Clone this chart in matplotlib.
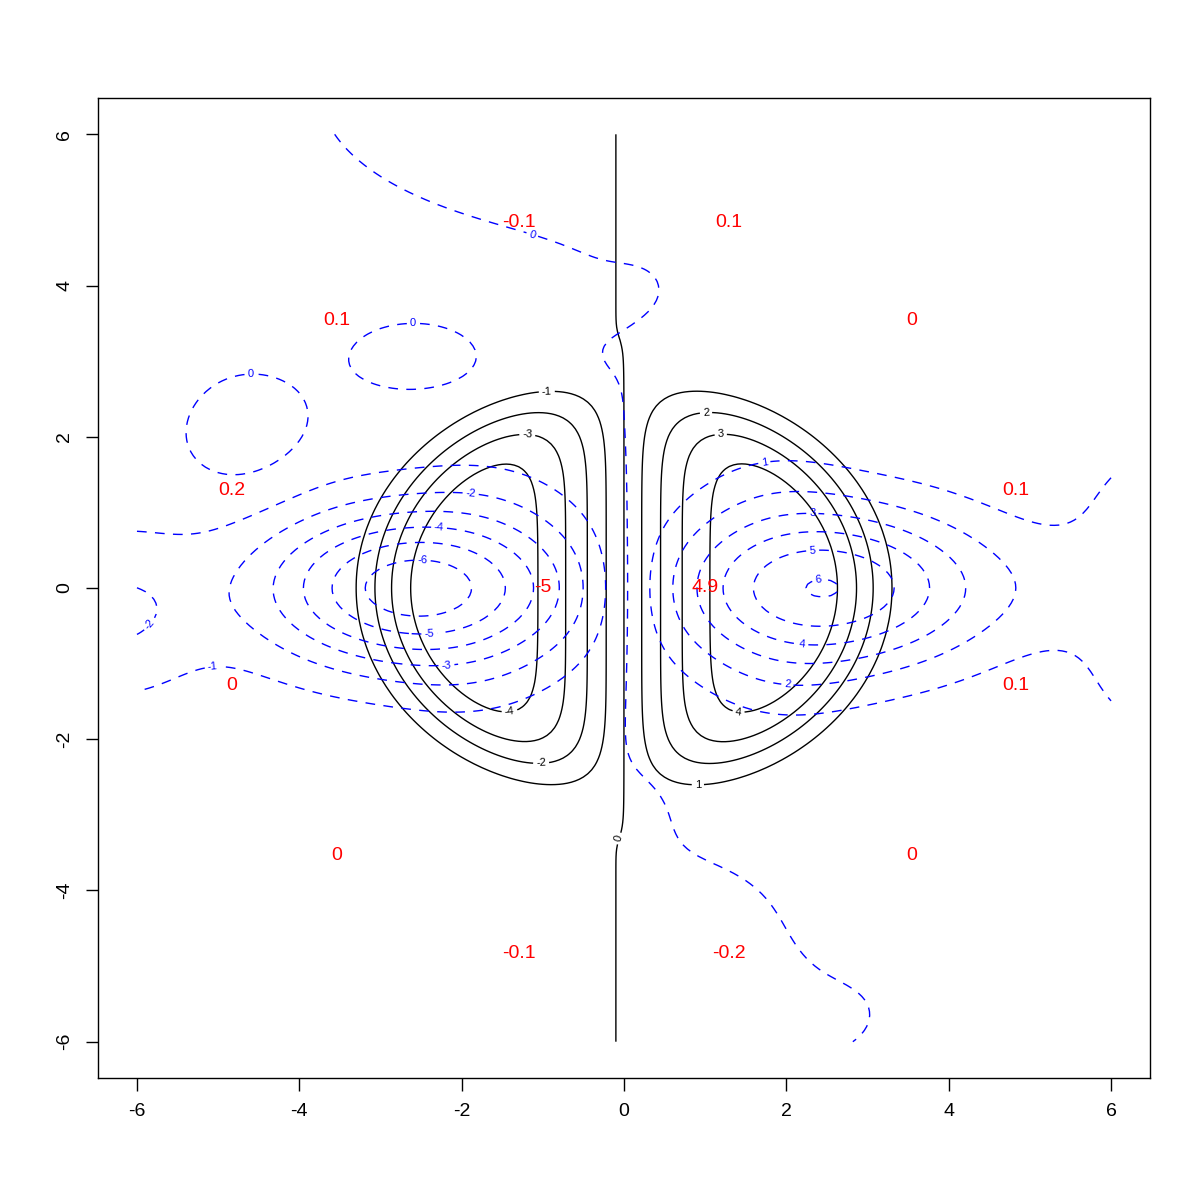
import numpy as np
import matplotlib.pyplot as plt

plt.rcParams['font.family'] = ['Liberation Sans', 'DejaVu Sans']
plt.rcParams['axes.unicode_minus'] = False

# design points and the values written next to them
pt_x = [4.83, 3.54, 1.29, -1.29, -3.54, -4.83, -4.83, -3.54, -1.29, 1.29, 3.54, 4.83, -1.0, 1.0]
pt_y = [1.29, 3.54, 4.83, 4.83, 3.54, 1.29, -1.29, -3.54, -4.83, -4.83, -3.54, -1.29, 0.0, 0.0]
pt_lab = ['0.1', '0', '0.1', '-0.1', '0.1', '0.2', '0', '0', '-0.1', '-0.2', '0', '0.1', '-5', '4.9']

# true surface (black): amp * tanh(k x) * flat-top envelope
true_amp, true_k = 5.8, 0.791
true_ax, true_by, true_pow = 3.03, 2.62, 3.6
true_tilt, true_shift = 0.03, 0.1
black_levels = [-4, -3, -2, -1, 0, 1, 2, 3, 4]

# fitted surface (blue dashed): sum of gaussian bumps + slope
# amp, cx, cy, 2*sx^2, 2*sy^2
fit_amp = [-6.6, 5.95, -0.45, -0.4, -0.4, 0.45, 0.45, -1.8, 1.06, 1.8, 1.8,
           0.573, 0.3, 0.37, -0.022, 0.012, -0.5, -0.15, 0.07, -0.025]
fit_cx = [-2.53, 2.42, -0.6, -1.6, -1.8, 1.8, 1.9, -6.3, 6.5, 6.8, 6.8,
          -4.65, -2.7, -1.6, 0.3, -0.4, 0.9, 2.6, 2.5, 0.3]
fit_cy = [0.0, 0.0, 0.0, 1.3, -1.3, 1.4, -1.35, -0.35, 0.0, 1.1, -1.15,
          1.9, 3.04, 6.6, 4.0, 3.1, -5.2, -5.6, -4.7, -3.0]
fit_wx = [3.7, 3.85, 0.845, 0.98, 0.98, 0.98, 0.98, 1.2, 3.55, 0.8, 0.8,
          0.67, 0.56, 5.12, 0.3, 0.2, 1.2, 0.8, 0.6, 0.3]
fit_wy = [1.17, 1.217, 1.2, 0.5, 0.5, 0.5, 0.5, 1.2, 0.8, 0.6, 0.6,
          0.768, 0.2, 1.8, 0.25, 0.2, 1.0, 0.5, 0.5, 0.6]
fit_slope = 0.04
blue_levels = [-6, -5, -4, -3, -2, -1, 0, 1, 2, 3, 4, 5, 6]

g = np.linspace(-6, 6, 241)
X, Y = np.meshgrid(g, g)

rho2 = (X / true_ax)**2 + (Y / true_by)**2
Z_true = true_amp * np.tanh(true_k * X) * np.exp(-rho2**true_pow) + true_tilt * (X + true_shift)

Z_fit = fit_slope * X
for a, cx, cy, wx, wy in zip(fit_amp, fit_cx, fit_cy, fit_wx, fit_wy):
    Z_fit = Z_fit + a * np.exp(-(X - cx)**2 / wx - (Y - cy)**2 / wy)

fig = plt.figure(figsize=(12, 12), dpi=100)
ax = fig.add_axes([98/1200, 122/1200, 1052/1200, 980/1200])
ax.set_xlim(-6.48, 6.48)
ax.set_ylim(-6.48, 6.48)

cs1 = ax.contour(X, Y, Z_true, levels=black_levels, colors='black', linewidths=1.0,
                 linestyles='solid', negative_linestyles='solid')
cs2 = ax.contour(X, Y, Z_fit, levels=blue_levels, colors='blue', linewidths=1.0,
                 linestyles='dashed', negative_linestyles='dashed')
cs2.set_dashes([(0, (7, 6))])

black_lab_pos = [(-0.95, 2.58), (-1.19, 2.05), (-1.02, -2.35), (-1.41, -1.63),
                 (1.01, 2.32), (1.19, 2.06), (1.41, -1.65), (0.91, -2.61), (-0.07, -3.31)]
blue_lab_pos = [(-2.48, 0.36), (-2.4, -0.58), (-2.28, 0.77), (-2.19, -0.98), (-1.89, 1.22),
                (-5.07, -1.01), (-5.94, -0.39), (-4.6, 2.82), (-2.6, 3.47), (-1.1, 4.78),
                (1.72, 1.72), (2.02, -1.18), (2.32, 0.96), (2.2, -0.71), (2.32, 0.47), (2.4, 0.05)]
ax.clabel(cs1, fmt='%g', fontsize=8, manual=black_lab_pos, inline_spacing=3)
ax.clabel(cs2, fmt='%g', fontsize=8, manual=blue_lab_pos, inline_spacing=3)

for x, y, s in zip(pt_x, pt_y, pt_lab):
    ax.text(x, y, s, color='red', fontsize=14, ha='center', va='center')

ax.set_xticks([-6, -4, -2, 0, 2, 4, 6])
ax.set_yticks([-6, -4, -2, 0, 2, 4, 6])
ax.tick_params(direction='out', length=9, width=1, labelsize=14, pad=9,
               top=False, right=False)
for lab in ax.get_yticklabels():
    lab.set_rotation(90)
    lab.set_va('center')
for sp in ax.spines.values():
    sp.set_linewidth(1.0)

fig.savefig('out.png', dpi=100)
